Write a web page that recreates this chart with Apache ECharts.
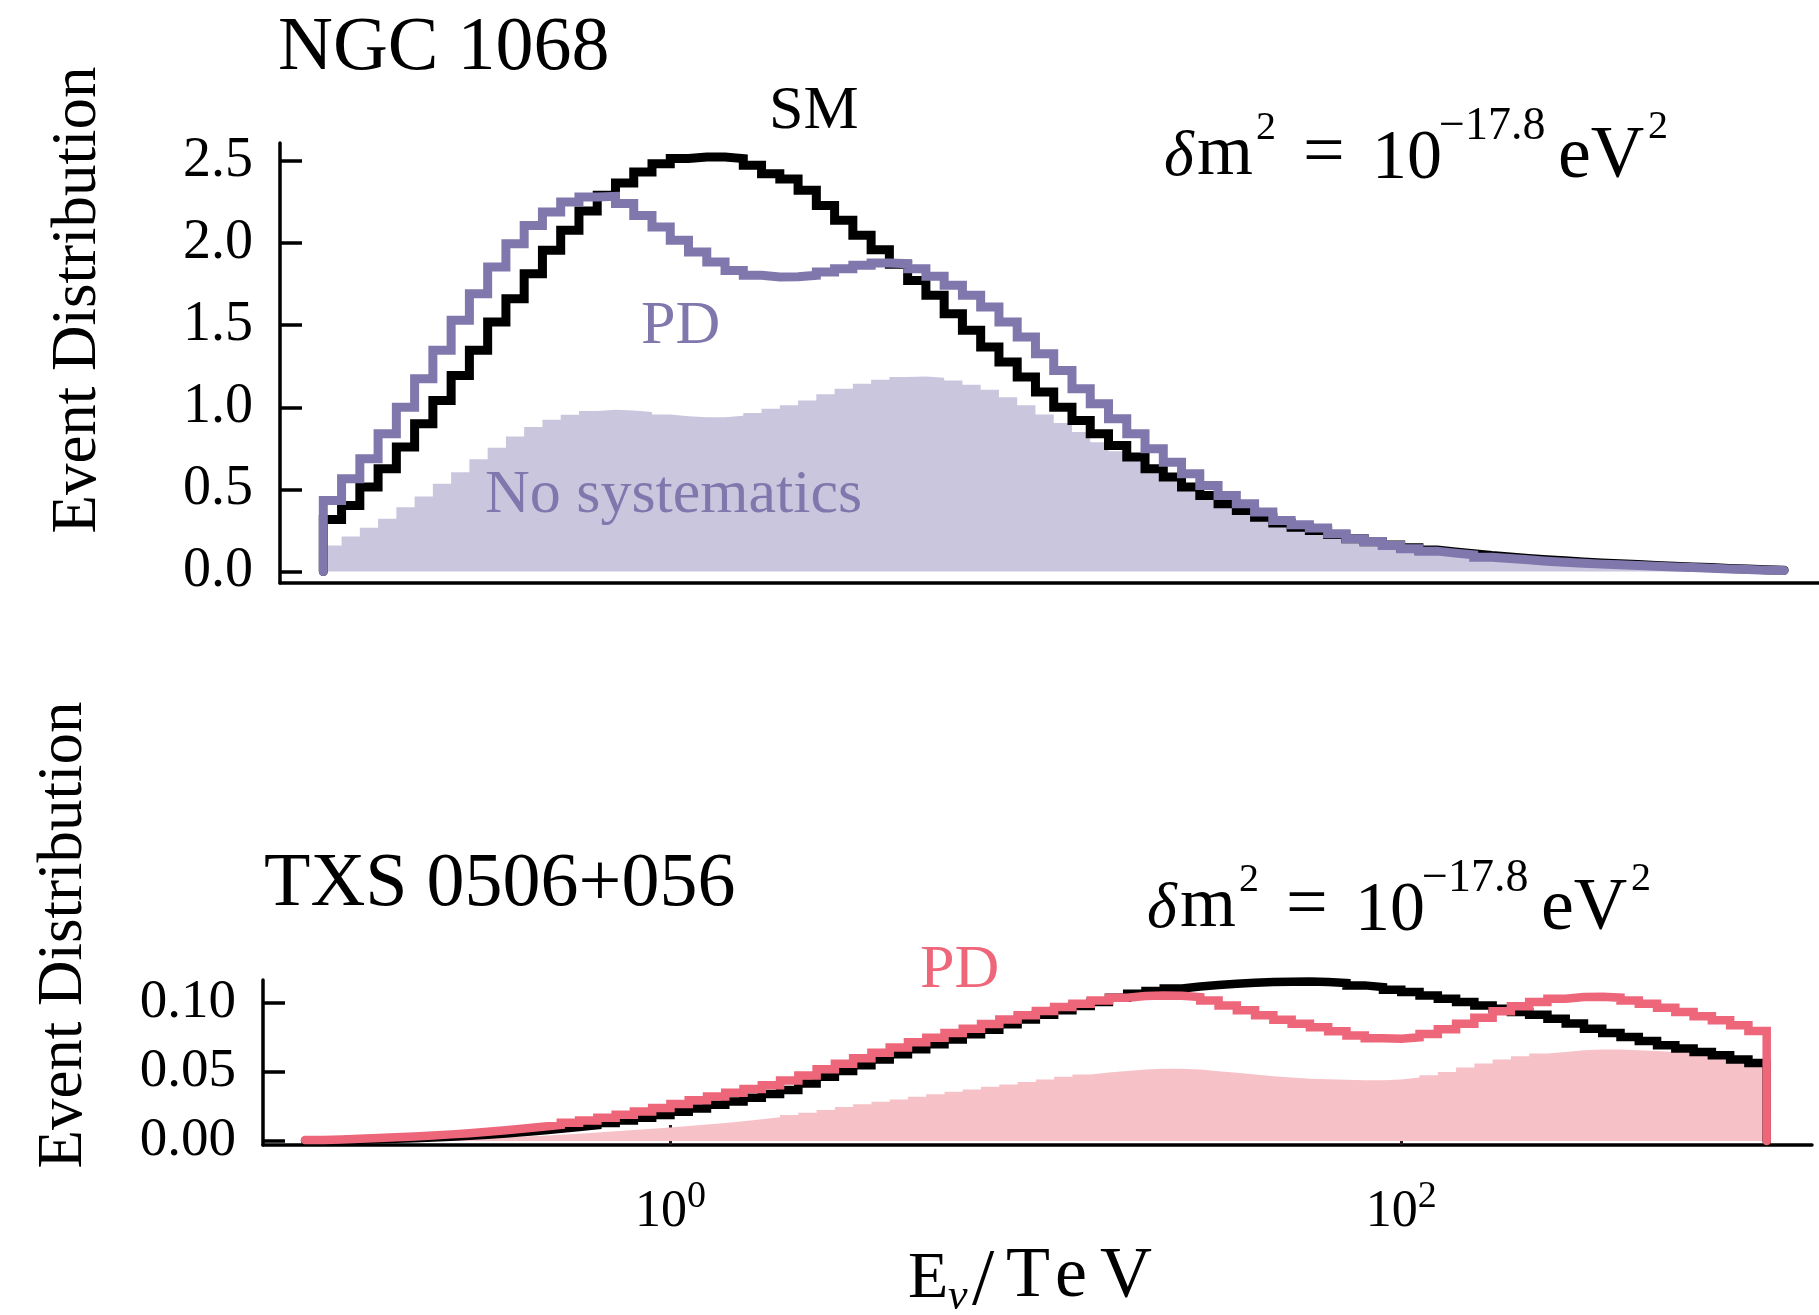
<!DOCTYPE html>
<html>
<head>
<meta charset="utf-8">
<title>Event distributions, NGC 1068 / TXS 0506+056</title>
<script src="https://cdn.jsdelivr.net/npm/echarts@6/dist/echarts.min.js"></script>
<style>
  html, body { margin: 0; padding: 0; background: #fff; }
  #chart { width: 1819px; height: 1315px; }
</style>
</head>
<body>
<div id="chart"></div>
<script>
// binning in log10(E / TeV): 80 bins from 0.1 TeV to 1000 TeV
const logEMin = -1;
const logEMax = 3;
const nBins = 80;

// NGC 1068 (top panel)
const smNgc = [
  0.317, 0.402, 0.514, 0.626, 0.758, 0.900, 1.042, 1.194, 1.347, 1.519,
  1.662, 1.814, 1.956, 2.078, 2.196, 2.291, 2.366, 2.434, 2.484, 2.515,
  2.525, 2.525, 2.515, 2.474, 2.423, 2.390, 2.322, 2.230, 2.139, 2.048,
  1.960, 1.871, 1.773, 1.682, 1.570, 1.469, 1.367, 1.276, 1.184, 1.093,
  1.001, 0.920, 0.839, 0.768, 0.697, 0.626, 0.575, 0.514, 0.463, 0.412,
  0.372, 0.331, 0.295, 0.270, 0.250, 0.225, 0.200, 0.182, 0.162, 0.145,
  0.131, 0.119, 0.109, 0.097, 0.088, 0.080, 0.072, 0.065, 0.058, 0.052,
  0.047, 0.042, 0.037, 0.032, 0.028, 0.024, 0.019, 0.015, 0.011, 0.008
];
const pdNgc = [
  0.433, 0.565, 0.687, 0.839, 1.001, 1.174, 1.347, 1.530, 1.692, 1.855,
  1.997, 2.108, 2.190, 2.251, 2.281, 2.285, 2.241, 2.169, 2.098, 2.017,
  1.946, 1.885, 1.834, 1.804, 1.794, 1.796, 1.804, 1.824, 1.844, 1.865,
  1.879, 1.875, 1.844, 1.798, 1.743, 1.682, 1.611, 1.519, 1.428, 1.326,
  1.225, 1.113, 1.022, 0.930, 0.839, 0.748, 0.666, 0.595, 0.524, 0.463,
  0.412, 0.362, 0.311, 0.285, 0.265, 0.230, 0.199, 0.183, 0.158, 0.138,
  0.124, 0.112, 0.102, 0.087, 0.079, 0.071, 0.063, 0.057, 0.051, 0.045,
  0.041, 0.037, 0.032, 0.028, 0.024, 0.020, 0.016, 0.012, 0.008, 0.006
];
const noSysNgc = [
  0.158, 0.213, 0.266, 0.321, 0.392, 0.457, 0.534, 0.605, 0.683, 0.754,
  0.823, 0.880, 0.924, 0.955, 0.977, 0.985, 0.981, 0.971, 0.957, 0.945,
  0.940, 0.940, 0.949, 0.965, 0.991, 1.012, 1.042, 1.079, 1.113, 1.144,
  1.168, 1.184, 1.188, 1.180, 1.164, 1.138, 1.107, 1.062, 1.012, 0.957,
  0.904, 0.849, 0.788, 0.733, 0.676, 0.620, 0.565, 0.514, 0.463, 0.416,
  0.372, 0.331, 0.290, 0.258, 0.235, 0.210, 0.188, 0.170, 0.152, 0.136,
  0.122, 0.110, 0.099, 0.088, 0.079, 0.071, 0.063, 0.056, 0.050, 0.044,
  0.039, 0.034, 0.030, 0.026, 0.022, 0.019, 0.015, 0.012, 0.009, 0.007
];

// TXS 0506+056 (bottom panel)
const smTxs = [
  0.0004, 0.0006, 0.0009, 0.0012, 0.0016, 0.0020, 0.0025, 0.0031, 0.0038, 0.0046,
  0.0055, 0.0065, 0.0076, 0.0088, 0.0101, 0.0115, 0.0131, 0.0149, 0.0168, 0.0189,
  0.0212, 0.0236, 0.0262, 0.0287, 0.0313, 0.0340, 0.0369, 0.0417, 0.0465, 0.0508,
  0.0549, 0.0590, 0.0629, 0.0665, 0.0701, 0.0735, 0.0773, 0.0807, 0.0846, 0.0880,
  0.0916, 0.0947, 0.0978, 0.1007, 0.1039, 0.1067, 0.1087, 0.1106, 0.1120, 0.1130,
  0.1140, 0.1147, 0.1152, 0.1154, 0.1156, 0.1152, 0.1145, 0.1128, 0.1116, 0.1096,
  0.1080, 0.1055, 0.1031, 0.1007, 0.0983, 0.0959, 0.0935, 0.0915, 0.0887, 0.0851,
  0.0814, 0.0783, 0.0754, 0.0725, 0.0694, 0.0670, 0.0646, 0.0622, 0.0590, 0.0566
];
const pdTxs = [
  0.0007, 0.0011, 0.0016, 0.0021, 0.0027, 0.0033, 0.0040, 0.0048, 0.0057, 0.0067,
  0.0078, 0.0090, 0.0103, 0.0117, 0.0132, 0.0148, 0.0168, 0.0190, 0.0214, 0.0240,
  0.0268, 0.0296, 0.0323, 0.0350, 0.0377, 0.0405, 0.0438, 0.0475, 0.0520, 0.0560,
  0.0600, 0.0640, 0.0678, 0.0715, 0.0749, 0.0783, 0.0814, 0.0848, 0.0880, 0.0911,
  0.0942, 0.0971, 0.0995, 0.1019, 0.1039, 0.1051, 0.1055, 0.1053, 0.1043, 0.1019,
  0.0983, 0.0947, 0.0911, 0.0878, 0.0850, 0.0825, 0.0795, 0.0765, 0.0745, 0.0742,
  0.0752, 0.0775, 0.0810, 0.0850, 0.0894, 0.0940, 0.0976, 0.1007, 0.1031, 0.1043,
  0.1045, 0.1039, 0.1019, 0.0995, 0.0966, 0.0935, 0.0904, 0.0875, 0.0839, 0.0798
];
const noSysTxs = [
  0.0002, 0.0003, 0.0004, 0.0006, 0.0008, 0.0010, 0.0013, 0.0016, 0.0019, 0.0023,
  0.0027, 0.0032, 0.0038, 0.0045, 0.0053, 0.0061, 0.0070, 0.0079, 0.0088, 0.0098,
  0.0108, 0.0119, 0.0131, 0.0144, 0.0158, 0.0172, 0.0188, 0.0205, 0.0224, 0.0246,
  0.0266, 0.0284, 0.0301, 0.0320, 0.0339, 0.0357, 0.0374, 0.0393, 0.0410, 0.0427,
  0.0446, 0.0465, 0.0482, 0.0496, 0.0508, 0.0518, 0.0523, 0.0523, 0.0518, 0.0506,
  0.0494, 0.0482, 0.0470, 0.0460, 0.0452, 0.0447, 0.0444, 0.0441, 0.0441, 0.0446,
  0.0460, 0.0477, 0.0501, 0.0533, 0.0561, 0.0590, 0.0614, 0.0634, 0.0646, 0.0658,
  0.0663, 0.0663, 0.0658, 0.0653, 0.0646, 0.0639, 0.0629, 0.0619, 0.0605, 0.0586
];

// tick values
const ngcTicks = [0, 0.5, 1.0, 1.5, 2.0, 2.5];
const txsTicks = [0, 0.05, 0.10];
const energyTicks = [0, 2];   // log10(E/TeV)

const serif = "'Liberation Serif', 'DejaVu Serif', serif";
const purple = '#8077ad';
const lavender = '#cac6de';
const red = '#ee667a';
const pink = '#f7c1c8';

// bin edges in log10(E)
const binEdges = [];
for (let i = 0; i <= nBins; i++) {
  binEdges.push(logEMin + (logEMax - logEMin) * i / nBins);
}

// histogram outline: left edge of each bin carries its value, step 'end'
function histPoints(vals, fromZero, toZero) {
  const pts = [];
  if (fromZero) pts.push([binEdges[0], 0]);
  vals.forEach((v, i) => pts.push([binEdges[i], v]));
  pts.push([binEdges[nBins], vals[vals.length - 1]]);
  if (toZero) pts.push([binEdges[nBins], 0]);
  return pts;
}

function histLine(idx, vals, color, width, z, fromZero, toZero) {
  return {
    type: 'line', xAxisIndex: idx, yAxisIndex: idx,
    step: 'end', symbol: 'none', silent: true, z: z,
    lineStyle: { color: color, width: width, cap: 'round', join: 'miter' },
    data: histPoints(vals, fromZero, toZero)
  };
}

function histFill(idx, vals, color) {
  return {
    type: 'line', xAxisIndex: idx, yAxisIndex: idx,
    step: 'end', symbol: 'none', silent: true, z: 1,
    lineStyle: { width: 0, opacity: 0 },
    areaStyle: { color: color, opacity: 1, origin: 'auto' },
    data: histPoints(vals, false, false)
  };
}

// text placed by left edge and baseline
function txt(x, baseline, text, size, color, italic) {
  return {
    type: 'text', x: x, y: baseline - 0.34 * size, silent: true, z: 100,
    style: {
      text: text, fontFamily: serif, fontSize: size, fill: color || '#000',
      fontStyle: italic ? 'italic' : 'normal',
      align: 'left', verticalAlign: 'middle'
    }
  };
}

// δm² = 10^-17.8 eV², x0 = left edge, y0 = baseline
function massLabel(x0, y0) {
  return [
    txt(x0, y0, 'δ', 64, '#000', true),
    txt(x0 + 33, y0, 'm', 72),
    txt(x0 + 92, y0 - 38, '2', 40),
    txt(x0 + 139, y0, '=', 74),
    txt(x0 + 208, y0 + 3, '10', 70),
    txt(x0 + 275, y0 - 37, '−17.8', 46),
    txt(x0 + 394, y0 + 3, 'eV', 74),
    txt(x0 + 484, y0 - 39, '2', 40)
  ];
}

const axisBlack = { color: '#000', width: 3.5 };

const option = {
  animation: false,
  backgroundColor: '#fff',
  grid: [
    { left: 280, right: 0, top: 143, height: 440, containLabel: false, outerBoundsMode: 'none' },
    { left: 263, right: 7, top: 980, height: 165, containLabel: false, outerBoundsMode: 'none' }
  ],
  xAxis: [
    {
      type: 'value', gridIndex: 0, min: -1.1186, max: 3.0955,
      axisLine: { show: true, onZero: false, lineStyle: axisBlack },
      axisTick: { show: false }, axisLabel: { show: false }, splitLine: { show: false }
    },
    {
      type: 'value', gridIndex: 1, min: -1.115, max: 3.124,
      axisLine: { show: true, onZero: false, lineStyle: axisBlack },
      axisTick: {
        show: true, inside: true, length: 20, customValues: energyTicks,
        lineStyle: { color: '#2a1a1e', width: 3 }
      },
      axisLabel: {
        show: true, margin: 33, customValues: energyTicks,
        formatter: v => '{b|10}{s|' + Math.round(v) + '}',
        rich: {
          b: { fontFamily: serif, fontSize: 52, lineHeight: 69, color: '#000', verticalAlign: 'middle' },
          s: { fontFamily: serif, fontSize: 38, lineHeight: 38, color: '#000', verticalAlign: 'top' }
        }
      },
      splitLine: { show: false }
    }
  ],
  yAxis: [
    {
      type: 'value', gridIndex: 0, min: -0.070, max: 2.610,
      axisLine: { show: true, onZero: false, lineStyle: axisBlack },
      axisTick: { show: true, inside: true, length: 22, customValues: ngcTicks, lineStyle: axisBlack },
      axisLabel: {
        show: true, margin: 27, customValues: ngcTicks,
        formatter: v => v.toFixed(1),
        fontFamily: serif, fontSize: 56, color: '#000'
      },
      splitLine: { show: false }
    },
    {
      type: 'value', gridIndex: 1, min: -0.0029, max: 0.1167,
      axisLine: { show: true, onZero: false, lineStyle: axisBlack },
      axisTick: { show: true, inside: true, length: 22, customValues: txsTicks, lineStyle: axisBlack },
      axisLabel: {
        show: true, margin: 27, customValues: txsTicks,
        formatter: v => v.toFixed(2),
        fontFamily: serif, fontSize: 55, color: '#000'
      },
      splitLine: { show: false }
    }
  ],
  series: [
    histFill(0, noSysNgc, lavender),
    histLine(0, smNgc, '#000', 9, 3, true, false),
    histLine(0, pdNgc, purple, 9, 4, true, false),
    histFill(1, noSysTxs, pink),
    histLine(1, smTxs, '#000', 8.5, 3, false, true),
    histLine(1, pdTxs, red, 8.5, 4, false, true)
  ],
  graphic: [
    txt(278, 75, 'NGC 1068', 76),
    txt(769, 133, 'SM', 62),
    txt(641, 348, 'PD', 62, purple),
    txt(485, 517, 'No systematics', 62, purple),
    txt(264, 911, 'TXS 0506+056', 76),
    txt(920, 992, 'PD', 62, red),
    ...massLabel(1164, 180),
    ...massLabel(1147, 932),
    {
      type: 'text', x: 78, y: 300, rotation: Math.PI / 2, silent: true,
      style: { text: 'Event Distribution', fontFamily: serif, fontSize: 63, fill: '#000', align: 'center', verticalAlign: 'middle' }
    },
    {
      type: 'text', x: 64, y: 935, rotation: Math.PI / 2, silent: true,
      style: { text: 'Event Distribution', fontFamily: serif, fontSize: 63, fill: '#000', align: 'center', verticalAlign: 'middle' }
    },
    // E_nu / TeV
    txt(908, 1302, 'E', 66),
    txt(948, 1312, 'ν', 44, '#000', true),
    txt(972, 1310, '/', 80),
    txt(1006, 1302, 'T', 72),
    txt(1055, 1302, 'e', 72),
    txt(1100, 1302, 'V', 72)
  ]
};

const chart = echarts.init(document.getElementById('chart'));
chart.setOption(option);
window.addEventListener('resize', () => chart.resize());
</script>
</body>
</html>
